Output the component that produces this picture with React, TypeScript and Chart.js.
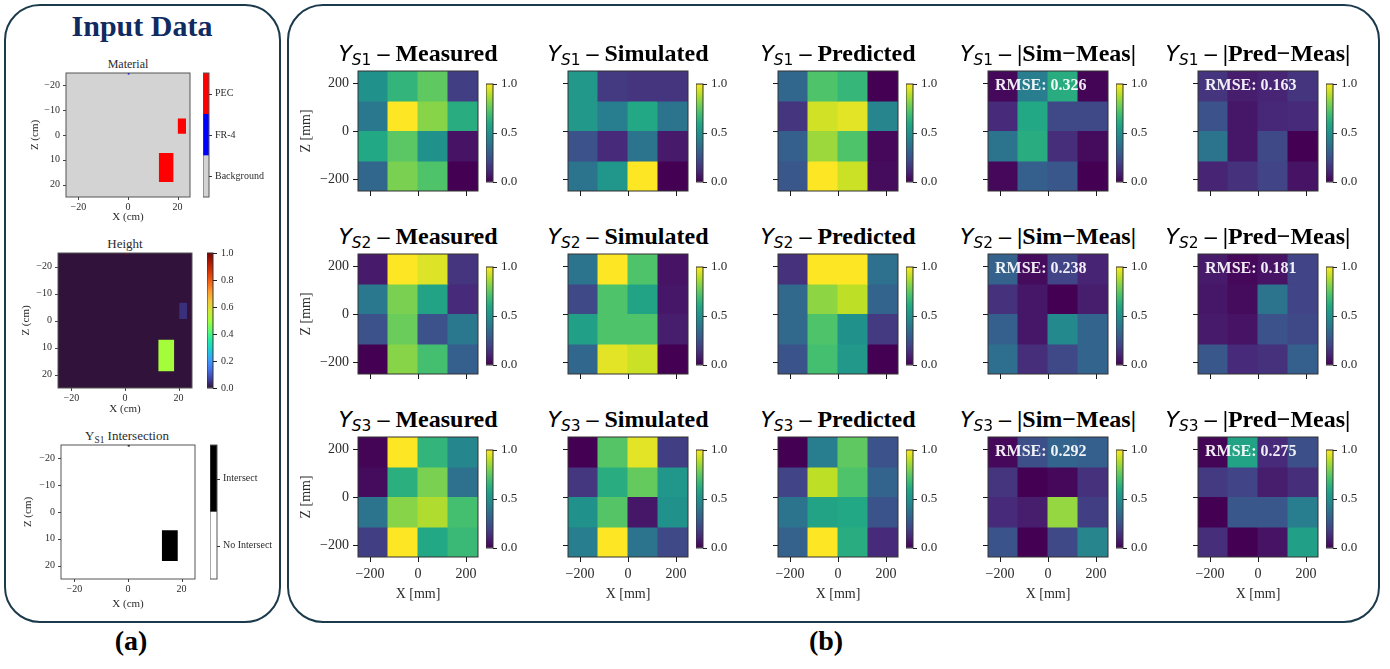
import React, { useEffect, useRef } from 'react';
import { Chart, registerables } from 'chart.js';

Chart.register(...registerables);
Chart.defaults.font.family = 'Liberation Serif';

// ---------------- DATA ----------------
// Panel (b): 4x4 grids, rows top->bottom (Z high -> low), cols left->right (X low -> high)
const X_CENTERS = [-187.5, -62.5, 62.5, 187.5];
const Z_CENTERS = [187.5, 62.5, -62.5, -187.5];
const CELL_SIZE = 125;
const GRID_EXTENT = [-250, 250];
const MM_TICKS = [-200, 0, 200];
const CBAR_TICKS = [0, 0.5, 1];

const MEAS_S1 = [[0.50, 0.65, 0.75, 0.18], [0.40, 1.00, 0.82, 0.62], [0.60, 0.74, 0.50, 0.05], [0.33, 0.80, 0.72, 0.00]];
const SIM_S1 = [[0.53, 0.17, 0.15, 0.15], [0.53, 0.42, 0.60, 0.38], [0.25, 0.12, 0.38, 0.07], [0.38, 0.52, 1.00, 0.00]];
const PRED_S1 = [[0.33, 0.72, 0.66, 0.00], [0.15, 0.93, 0.96, 0.45], [0.30, 0.85, 0.72, 0.02], [0.27, 1.00, 0.92, 0.03]];
const SIMERR_S1 = [[0.02, 0.42, 0.62, 0.01], [0.12, 0.60, 0.22, 0.22], [0.38, 0.62, 0.13, 0.03], [0.02, 0.30, 0.27, 0.00]];
const PREDERR_S1 = [[0.15, 0.08, 0.10, 0.15], [0.25, 0.06, 0.11, 0.12], [0.38, 0.06, 0.22, 0.00], [0.10, 0.14, 0.20, 0.05]];

const MEAS_S2 = [[0.07, 1.00, 0.95, 0.15], [0.40, 0.80, 0.58, 0.12], [0.25, 0.77, 0.25, 0.40], [0.00, 0.82, 0.70, 0.30]];
const SIM_S2 = [[0.38, 1.00, 0.72, 0.05], [0.22, 0.72, 0.58, 0.06], [0.56, 0.72, 0.72, 0.08], [0.33, 0.96, 0.92, 0.00]];
const PRED_S2 = [[0.14, 1.00, 1.00, 0.37], [0.34, 0.83, 0.90, 0.32], [0.34, 0.72, 0.50, 0.17], [0.26, 0.70, 0.53, 0.00]];
const SIMERR_S2 = [[0.31, 0.03, 0.20, 0.10], [0.14, 0.06, 0.00, 0.08], [0.30, 0.06, 0.47, 0.32], [0.36, 0.13, 0.22, 0.32]];
const PREDERR_S2 = [[0.07, 0.02, 0.05, 0.20], [0.06, 0.03, 0.38, 0.20], [0.07, 0.05, 0.25, 0.22], [0.27, 0.12, 0.14, 0.30]];

const MEAS_S3 = [[0.01, 1.00, 0.65, 0.46], [0.03, 0.63, 0.80, 0.37], [0.38, 0.82, 0.88, 0.70], [0.18, 1.00, 0.60, 0.67]];
const SIM_S3 = [[0.00, 0.73, 0.96, 0.18], [0.16, 0.62, 0.76, 0.52], [0.50, 0.73, 0.06, 0.50], [0.42, 1.00, 0.38, 0.22]];
const PRED_S3 = [[0.00, 0.42, 0.75, 0.25], [0.20, 0.90, 0.72, 0.32], [0.38, 0.58, 0.60, 0.26], [0.31, 1.00, 0.62, 0.12]];
const SIMERR_S3 = [[0.02, 0.24, 0.32, 0.30], [0.15, 0.00, 0.02, 0.14], [0.12, 0.08, 0.84, 0.18], [0.26, 0.00, 0.22, 0.45]];
const PREDERR_S3 = [[0.01, 0.58, 0.12, 0.24], [0.17, 0.20, 0.08, 0.13], [0.00, 0.27, 0.27, 0.42], [0.13, 0.00, 0.05, 0.56]];

const ROW_NAMES = ['S1', 'S2', 'S3'];
const COL_NAMES = ['Measured', 'Simulated', 'Predicted', '|Sim\u2212Meas|', '|Pred\u2212Meas|'];
const GRIDS = [
  [MEAS_S1, SIM_S1, PRED_S1, SIMERR_S1, PREDERR_S1],
  [MEAS_S2, SIM_S2, PRED_S2, SIMERR_S2, PREDERR_S2],
  [MEAS_S3, SIM_S3, PRED_S3, SIMERR_S3, PREDERR_S3],
];
const RMSE = [
  [null, null, null, 0.326, 0.163],
  [null, null, null, 0.238, 0.181],
  [null, null, null, 0.292, 0.275],
];

// Panel (a): rectangles [x0, x1, z0, z1, value] in cm
const CM_EXTENT = [-25, 25];
const CM_X_TICKS = [-20, 0, 20];
const CM_Z_TICKS = [-20, -10, 0, 10, 20];
const MATERIAL_RECTS = [
  [-0.2, 0.7, -25, -24.4, 1],
  [20, 23.4, -6.7, -0.5, 2],
  [12.4, 18.4, 7.3, 19, 2],
  [-25, 25, -25, 25, 0],
];
const MATERIAL_CLASSES = ['Background', 'FR-4', 'PEC'];
const HEIGHT_RECTS = [
  [-0.2, 0.7, -25, -24.4, 1.0],
  [20.2, 23.2, -6.6, -0.6, 0.04],
  [12.4, 18.4, 7.1, 18.8, 0.5],
  [-25, 25, -25, 25, 0],
];
const HEIGHT_TICKS = [0, 0.2, 0.4, 0.6, 0.8, 1.0];
const INTERSECT_RECTS = [
  [-0.2, 0.7, -25, -24.4, 1],
  [12.6, 18.6, 6.8, 18.3, 1],
  [-25, 25, -25, 25, 0],
];
const INTERSECT_CLASSES = ['No Intersect', 'Intersect'];

// ---------------- STYLE ----------------
const VIRIDIS = ['#440154', '#482475', '#414487', '#355f8d', '#2a788e', '#21918c', '#22a884', '#44bf70', '#7ad151', '#bddf26', '#fde725'];
const TURBO = ['#30123b', '#4145ab', '#4675ed', '#39a2fc', '#1bcfd4', '#24eca6', '#61fc6c', '#a4fc3b', '#d1e834', '#f3c63a', '#fe9b2d', '#f36315', '#d93806', '#b11901', '#7a0402'];
const MATERIAL_COLORS = ['#d3d3d3', '#0000ff', '#ff0000'];
const INTERSECT_COLORS = ['#ffffff', '#000000'];
const INK = '#2b2b2b';
const SERIF = 'Liberation Serif';
const MATH = 'DejaVu Sans';
const BORDER = '#1b3a4c';
const HIDDEN = 'rgba(0,0,0,0)';

function hexToRgb(h: string) {
  return [parseInt(h.slice(1, 3), 16), parseInt(h.slice(3, 5), 16), parseInt(h.slice(5, 7), 16)];
}
function sampleMap(stops: string[], v: number) {
  const t = Math.max(0, Math.min(1, v)) * (stops.length - 1);
  const i = Math.min(Math.floor(t), stops.length - 2);
  const f = t - i;
  const a = hexToRgb(stops[i]);
  const b = hexToRgb(stops[i + 1]);
  const c = a.map((x, k) => Math.round(x + (b[k] - x) * f));
  return `rgb(${c[0]},${c[1]},${c[2]})`;
}
const fmtMinus = (v: number) => (v < 0 ? '\u2212' + Math.abs(v) : String(v));

// Draws the axes frame and outward tick marks at each scale's ticks.
const framePlugin = {
  id: 'frame',
  afterDraw(chart: any, _args: any, opts: any) {
    const { ctx, chartArea: a } = chart;
    ctx.save();
    ctx.strokeStyle = opts.color || INK;
    ctx.lineWidth = opts.width || 1;
    ctx.strokeRect(a.left, a.top, a.right - a.left, a.bottom - a.top);
    const len = opts.tickLen || 0;
    if (len > 0) {
      ctx.strokeStyle = opts.tickColor || '#222';
      ctx.lineWidth = opts.tickWidth || 1;
      ctx.beginPath();
      Object.keys(chart.scales).forEach((id) => {
        const s = chart.scales[id];
        if (s.options.display === false) return;
        s.ticks.forEach((t: any) => {
          const p = Math.round(s.getPixelForValue(t.value)) + 0.5;
          if (s.position === 'bottom') { ctx.moveTo(p, a.bottom); ctx.lineTo(p, a.bottom + len); }
          else if (s.position === 'left') { ctx.moveTo(a.left - len, p); ctx.lineTo(a.left, p); }
          else if (s.position === 'right') { ctx.moveTo(a.right, p); ctx.lineTo(a.right + len, p); }
        });
      });
      ctx.stroke();
    }
    ctx.restore();
  },
};

function fixedTicks(values: number[]) {
  return (s: any) => {
    s.ticks = values.map((v) => ({ value: v }));
  };
}
function fitY(w: number) {
  return (s: any) => {
    s.width = w;
    s.paddingTop = 0;
    s.paddingBottom = 0;
  };
}
function fitX(h: number) {
  return (s: any) => {
    s.height = h;
    s.paddingLeft = 0;
    s.paddingRight = 0;
  };
}

// ---------------- CONFIG BUILDERS ----------------
function heatmapConfig(grid: number[][], showY: boolean, showX: boolean, yW: number, xH: number) {
  const datasets = Z_CENTERS.map((z, r) => ({
    data: X_CENTERS.map((x) => ({ x, y: [z - CELL_SIZE / 2, z + CELL_SIZE / 2] })),
    backgroundColor: X_CENTERS.map((_, c) => sampleMap(VIRIDIS, grid[r][c])),
    borderWidth: 0,
    barPercentage: 1,
    categoryPercentage: 1,
    grouped: false,
    inflateAmount: 0.5,
  }));
  const tickFont = { family: SERIF, size: 14 };
  const gridOpts = { drawOnChartArea: false, drawTicks: true, tickLength: 5, color: HIDDEN };
  return {
    type: 'bar',
    data: { datasets },
    plugins: [framePlugin],
    options: {
      animation: false,
      responsive: false,
      events: [],
      layout: { padding: { top: 1, right: 1, left: 0, bottom: 0 } },
      plugins: { legend: { display: false }, tooltip: { enabled: false }, frame: { color: '#333', width: 1, tickLen: 5, tickColor: '#1a1a1a', tickWidth: 1 } },
      scales: {
        x: {
          type: 'linear',
          min: GRID_EXTENT[0],
          max: GRID_EXTENT[1],
          offset: false,
          afterBuildTicks: fixedTicks(MM_TICKS),
          afterFit: fitX(xH),
          grid: gridOpts,
          border: { display: false },
          ticks: { display: showX, font: tickFont, color: INK, padding: 4, maxRotation: 0, callback: fmtMinus },
          title: { display: showX, text: 'X [mm]', font: { family: SERIF, size: 14 }, color: INK, padding: { top: 0, bottom: 4 } },
        },
        y: {
          type: 'linear',
          min: GRID_EXTENT[0],
          max: GRID_EXTENT[1],
          afterBuildTicks: fixedTicks(MM_TICKS),
          afterFit: fitY(yW),
          grid: gridOpts,
          border: { display: false },
          ticks: { display: showY, font: tickFont, color: INK, padding: 4, callback: fmtMinus },
          title: { display: showY, text: 'Z [mm]', font: { family: SERIF, size: 14 }, color: INK, padding: { top: 4, bottom: 4 } },
        },
      },
    },
  };
}

function gradientColorbarConfig(stops: string[], ticks: number[], axisW: number, fontSize: number, pad: number) {
  return {
    type: 'bar',
    data: {
      labels: [''],
      datasets: [
        {
          data: [[ticks[0], ticks[ticks.length - 1]]],
          backgroundColor: (ctx: any) => {
            const chart = ctx.chart;
            const ys = chart.scales && chart.scales.y;
            if (!chart.chartArea || !ys) return stops[0];
            const g = chart.ctx.createLinearGradient(0, ys.getPixelForValue(ticks[0]), 0, ys.getPixelForValue(ticks[ticks.length - 1]));
            stops.forEach((c, i) => g.addColorStop(i / (stops.length - 1), c));
            return g;
          },
          borderWidth: 0,
          barPercentage: 1,
          categoryPercentage: 1,
        },
      ],
    },
    plugins: [framePlugin],
    options: {
      animation: false,
      responsive: false,
      events: [],
      layout: { padding: { top: pad, bottom: pad, left: 0, right: 0 } },
      plugins: { legend: { display: false }, tooltip: { enabled: false }, frame: { color: '#333', width: 1, tickLen: 4, tickColor: '#222', tickWidth: 1 } },
      scales: {
        x: { display: false },
        y: {
          position: 'right',
          min: ticks[0],
          max: ticks[ticks.length - 1],
          afterBuildTicks: fixedTicks(ticks),
          afterFit: fitY(axisW),
          grid: { drawOnChartArea: false, drawTicks: true, tickLength: 4, color: HIDDEN },
          border: { display: false },
          ticks: { font: { family: SERIF, size: fontSize }, color: INK, padding: 4, callback: (v: number) => v.toFixed(1) },
        },
      },
    },
  };
}

function classColorbarConfig(colors: string[], classes: string[], axisW: number, fontSize: number, pad: number) {
  const datasets = classes.map((_, i) => ({
    data: [[i, i + 1]],
    backgroundColor: colors[i],
    borderWidth: 0,
    barPercentage: 1,
    categoryPercentage: 1,
    grouped: false,
  }));
  return {
    type: 'bar',
    data: { labels: [''], datasets },
    plugins: [framePlugin],
    options: {
      animation: false,
      responsive: false,
      events: [],
      layout: { padding: { top: pad, bottom: pad, left: 0, right: 0 } },
      plugins: { legend: { display: false }, tooltip: { enabled: false }, frame: { color: '#555', width: 1, tickLen: 3, tickColor: '#333', tickWidth: 1 } },
      scales: {
        x: { display: false },
        y: {
          position: 'right',
          min: 0,
          max: classes.length,
          afterBuildTicks: fixedTicks(classes.map((_, i) => i + 0.5)),
          afterFit: fitY(axisW),
          grid: { drawOnChartArea: false, drawTicks: true, tickLength: 3, color: HIDDEN },
          border: { display: false },
          ticks: { font: { family: SERIF, size: fontSize }, color: INK, padding: 3, callback: (v: number) => classes[Math.floor(v)] },
        },
      },
    },
  };
}

function rectMapConfig(rects: number[][], colorOf: (v: number) => string, yW: number, xH: number) {
  const datasets = rects.map(([x0, x1, z0, z1, v]) => ({
    type: 'line',
    data: [{ x: x0, y: z0 }, { x: x1, y: z0 }],
    fill: { value: z1 },
    backgroundColor: colorOf(v),
    borderColor: HIDDEN,
    borderWidth: 0,
    pointRadius: 0,
    tension: 0,
  }));
  const tickFont = { family: SERIF, size: 10 };
  return {
    type: 'line',
    data: { datasets },
    plugins: [framePlugin],
    options: {
      animation: false,
      responsive: false,
      events: [],
      layout: { padding: { top: 1, right: 1, left: 0, bottom: 0 } },
      plugins: { legend: { display: false }, tooltip: { enabled: false }, frame: { color: '#555', width: 1, tickLen: 3, tickColor: '#444', tickWidth: 1 } },
      scales: {
        x: {
          type: 'linear',
          min: CM_EXTENT[0],
          max: CM_EXTENT[1],
          afterBuildTicks: fixedTicks(CM_X_TICKS),
          afterFit: fitX(xH),
          grid: { drawOnChartArea: false, drawTicks: true, tickLength: 3, color: HIDDEN },
          border: { display: false },
          ticks: { font: tickFont, color: INK, padding: 1, maxRotation: 0, callback: fmtMinus },
          title: { display: true, text: 'X (cm)', font: { family: SERIF, size: 11 }, color: INK, padding: { top: 0, bottom: 3 } },
        },
        y: {
          type: 'linear',
          reverse: true,
          min: CM_EXTENT[0],
          max: CM_EXTENT[1],
          afterBuildTicks: fixedTicks(CM_Z_TICKS),
          afterFit: fitY(yW),
          grid: { drawOnChartArea: false, drawTicks: true, tickLength: 3, color: HIDDEN },
          border: { display: false },
          ticks: { font: tickFont, color: INK, padding: 3, callback: fmtMinus },
          title: { display: true, text: 'Z (cm)', font: { family: SERIF, size: 11 }, color: INK, padding: { top: 3, bottom: 3 } },
        },
      },
    },
  };
}

// ---------------- COMPONENTS ----------------
function ChartBox({ left, top, width, height, make }: { left: number; top: number; width: number; height: number; make: () => any }) {
  const ref = useRef<HTMLCanvasElement>(null);
  useEffect(() => {
    const chart = new Chart(ref.current as HTMLCanvasElement, make());
    return () => chart.destroy();
  }, []);
  return <canvas ref={ref} width={width} height={height} style={{ position: 'absolute', left, top, width, height }} />;
}

function SubY({ name, size }: { name: string; size: number }) {
  return (
    <span style={{ fontFamily: MATH, fontWeight: 'normal', fontSize: size }}>
      <span style={{ fontStyle: 'italic' }}>Y</span>
      <span style={{ fontSize: '0.7em', position: 'relative', top: '0.28em' }}>
        <span style={{ fontStyle: 'italic' }}>{name[0]}</span>
        {name.slice(1)}
      </span>
    </span>
  );
}

const HM = 120;
const COL_CX = [418, 628, 838, 1048, 1258];
const ROW_CY = [131, 314, 497];

function App() {
  const items: React.ReactNode[] = [];

  // Panel (b) heatmaps
  ROW_CY.forEach((cy, r) => {
    COL_CX.forEach((cx, c) => {
      const left = cx - HM / 2;
      const top = cy - HM / 2;
      const showY = c === 0;
      const showX = r === 2;
      const yW = showY ? 64 : 8;
      const xH = showX ? 50 : 8;
      const grid = GRIDS[r][c];
      items.push(
        <ChartBox key={`hm${r}${c}`} left={left - yW} top={top - 1} width={yW + HM + 1} height={HM + 1 + xH}
          make={() => heatmapConfig(grid, showY, showX, yW, xH)} />
      );
      const cbTop = cy + 2 - 49;
      items.push(
        <ChartBox key={`cb${r}${c}`} left={left + HM + 8} top={cbTop - 10} width={7 + 34} height={98 + 20}
          make={() => gradientColorbarConfig(VIRIDIS, CBAR_TICKS, 34, 13, 10)} />
      );
      items.push(
        <div key={`t${r}${c}`} style={{ position: 'absolute', left: cx - 160, width: 320, top: top - 32, textAlign: 'center', fontFamily: SERIF, fontWeight: 'bold', fontSize: 24, lineHeight: '28px', whiteSpace: 'nowrap', color: '#000' }}>
          <SubY name={ROW_NAMES[r]} size={22} /> {'\u2013'} {COL_NAMES[c]}
        </div>
      );
      const rm = RMSE[r][c];
      if (rm !== null) {
        items.push(
          <div key={`r${r}${c}`} style={{ position: 'absolute', left: left + 7, top: top + 5, fontFamily: SERIF, fontWeight: 'bold', fontSize: 16, lineHeight: '18px', color: 'rgba(255,255,255,0.92)', whiteSpace: 'nowrap' }}>
            RMSE: {rm.toFixed(3)}
          </div>
        );
      }
    });
  });

  // Panel (a)
  const matCol = (v: number) => MATERIAL_COLORS[v];
  const heightCol = (v: number) => sampleMap(TURBO, v);
  const interCol = (v: number) => INTERSECT_COLORS[v];

  return (
    <div style={{ position: 'absolute', left: 0, top: 0, width: 1390, height: 669, background: '#fff', overflow: 'hidden' }}>
      <div style={{ position: 'absolute', left: 4, top: 4, width: 277, height: 619, border: `2.5px solid ${BORDER}`, borderRadius: 36, boxSizing: 'border-box' }} />
      <div style={{ position: 'absolute', left: 287, top: 4, width: 1093, height: 619, border: `2.5px solid ${BORDER}`, borderRadius: 36, boxSizing: 'border-box' }} />

      <div style={{ position: 'absolute', left: 0, width: 284, top: 8, textAlign: 'center', fontFamily: SERIF, fontWeight: 'bold', fontSize: 30, lineHeight: '36px', color: '#0f2b62' }}>Input Data</div>

      <div style={{ position: 'absolute', left: 28, width: 200, top: 57, textAlign: 'center', fontFamily: SERIF, fontSize: 12, lineHeight: '14px', color: INK }}>Material</div>
      <ChartBox left={66 - 40} top={73 - 1} width={40 + 124 + 1} height={124 + 1 + 30} make={() => rectMapConfig(MATERIAL_RECTS, matCol, 40, 30)} />
      <ChartBox left={203} top={73 - 8} width={6 + 64} height={124 + 16} make={() => classColorbarConfig(MATERIAL_COLORS, MATERIAL_CLASSES, 64, 10, 8)} />

      <div style={{ position: 'absolute', left: 25, width: 200, top: 236, textAlign: 'center', fontFamily: SERIF, fontSize: 13, lineHeight: '15px', color: INK }}>Height</div>
      <ChartBox left={58 - 41} top={253 - 1} width={41 + 134 + 1} height={135 + 1 + 31} make={() => rectMapConfig(HEIGHT_RECTS, heightCol, 41, 31)} />
      <ChartBox left={207} top={253 - 8} width={6 + 40} height={135 + 16} make={() => gradientColorbarConfig(TURBO, HEIGHT_TICKS, 40, 10, 8)} />

      <div style={{ position: 'absolute', left: 27, width: 200, top: 428, textAlign: 'center', fontFamily: SERIF, fontSize: 13, lineHeight: '16px', color: INK }}>
        Y<span style={{ fontSize: '0.72em', position: 'relative', top: '0.3em' }}>S1</span> Intersection
      </div>
      <ChartBox left={61 - 42} top={445 - 1} width={42 + 134 + 1} height={134 + 1 + 35} make={() => rectMapConfig(INTERSECT_RECTS, interCol, 42, 35)} />
      <ChartBox left={210} top={445 - 8} width={7 + 66} height={134 + 16} make={() => classColorbarConfig(INTERSECT_COLORS, INTERSECT_CLASSES, 66, 10, 8)} />

      {items}

      <div style={{ position: 'absolute', left: 81, width: 100, top: 624, textAlign: 'center', fontFamily: SERIF, fontWeight: 'bold', fontSize: 28, lineHeight: '34px', color: '#000' }}>(a)</div>
      <div style={{ position: 'absolute', left: 776, width: 100, top: 624, textAlign: 'center', fontFamily: SERIF, fontWeight: 'bold', fontSize: 28, lineHeight: '34px', color: '#000' }}>(b)</div>
    </div>
  );
}

export default App;
